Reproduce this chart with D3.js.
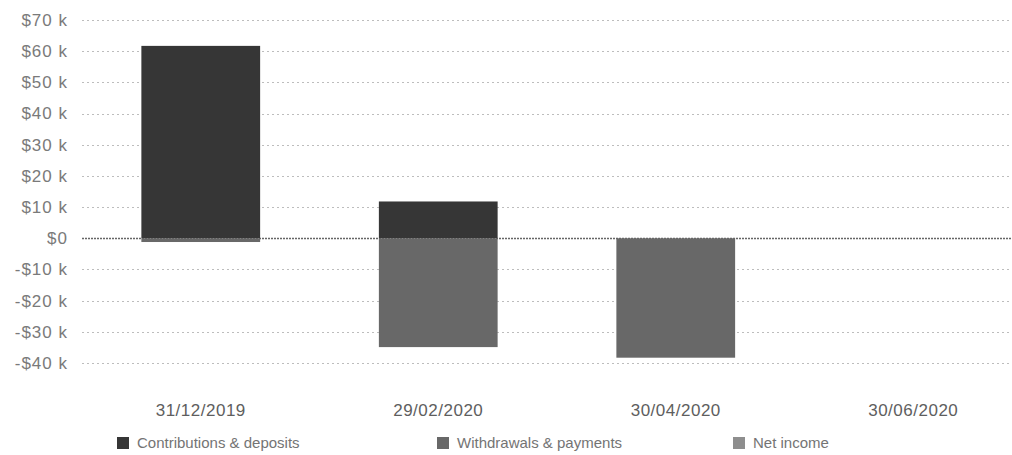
<!DOCTYPE html>
<html>
<head>
<meta charset="utf-8">
<script src="https://cdn.jsdelivr.net/npm/d3@7/dist/d3.min.js"></script>
<style>
  html, body { margin: 0; padding: 0; background: #fff; }
  svg { display: block; font-family: "Liberation Sans", Arial, sans-serif; }
</style>
</head>
<body>
<svg id="chart" width="1012" height="455"></svg>
<script>
// Period end dates shown along the bottom
const periods = ["31/12/2019", "29/02/2020", "30/04/2020", "30/06/2020"];

// Flows per period, in dollars
const contributions = [61700, 11800, 0, 0];
const withdrawals = [-1200, -34900, -38300, 0];
const netIncome = [0, 0, 0, 0];

// Y axis ticks
const yTicks = [70000, 60000, 50000, 40000, 30000, 20000, 10000, 0, -10000, -20000, -30000, -40000];

const seriesNames = ["Contributions & deposits", "Withdrawals & payments", "Net income"];
const seriesColors = ["#363636", "#686868", "#8e8e8e"];

const svg = d3.select("#chart");
const W = 1012;

const x = d3.scaleBand()
  .domain(periods)
  .range([82, 1032])
  .paddingInner(0.5)
  .paddingOuter(0.25);

const y = d3.scaleLinear()
  .domain([-40000, 70000])
  .range([363, 20]);

const fmt = v => v === 0 ? "$0" : (v < 0 ? "-" : "") + "$" + Math.abs(v / 1000) + " k";

// Horizontal dotted grid
const grid = svg.append("g");
grid.selectAll("line")
  .data(yTicks)
  .join("line")
  .attr("x1", 82)
  .attr("x2", W)
  .attr("y1", d => Math.round(y(d)) + 0.5)
  .attr("y2", d => Math.round(y(d)) + 0.5)
  .attr("stroke", d => d === 0 ? "#666" : "#bdbdbd")
  .attr("stroke-width", d => d === 0 ? 1.4 : 1)
  .attr("stroke-dasharray", d => d === 0 ? "2,1" : "2,3");

// Y axis labels
svg.append("g").selectAll("text")
  .data(yTicks)
  .join("text")
  .attr("x", 68)
  .attr("y", d => y(d))
  .attr("dy", "0.35em")
  .attr("text-anchor", "end")
  .attr("font-size", 17)
  .attr("letter-spacing", 1)
  .attr("fill", "#7a7a7a")
  .text(fmt);

// Stacked bars: positives stack upward from zero, negatives downward
const series = [contributions, withdrawals, netIncome];
const segments = [];
periods.forEach((p, i) => {
  let pos = 0, neg = 0;
  series.forEach((s, k) => {
    const v = s[i];
    if (!v) return;
    if (v > 0) { segments.push({ p, k, y0: pos, y1: pos + v }); pos += v; }
    else { segments.push({ p, k, y0: neg, y1: neg + v }); neg += v; }
  });
});

svg.append("g").selectAll("rect")
  .data(segments)
  .join("rect")
  .attr("x", d => x(d.p))
  .attr("width", x.bandwidth())
  .attr("y", d => y(Math.max(d.y0, d.y1)))
  .attr("height", d => Math.abs(y(d.y0) - y(d.y1)))
  .attr("fill", d => seriesColors[d.k]);

// Category labels
svg.append("g").selectAll("text")
  .data(periods)
  .join("text")
  .attr("x", d => x(d) + x.bandwidth() / 2)
  .attr("y", 410)
  .attr("dy", "0.35em")
  .attr("text-anchor", "middle")
  .attr("font-size", 17)
  .attr("letter-spacing", 0.5)
  .attr("fill", "#5e5e5e")
  .text(d => d);

// Legend
const legendX = [117, 437, 733];
const legend = svg.append("g").selectAll("g")
  .data(seriesNames)
  .join("g")
  .attr("transform", (d, i) => `translate(${legendX[i]},443)`);
legend.append("rect")
  .attr("x", 0).attr("y", -6)
  .attr("width", 12).attr("height", 12)
  .attr("fill", (d, i) => seriesColors[i]);
legend.append("text")
  .attr("x", 20)
  .attr("y", 0)
  .attr("dy", "0.35em")
  .attr("font-size", 15)
  .attr("fill", "#747474")
  .text(d => d);
</script>
</body>
</html>
